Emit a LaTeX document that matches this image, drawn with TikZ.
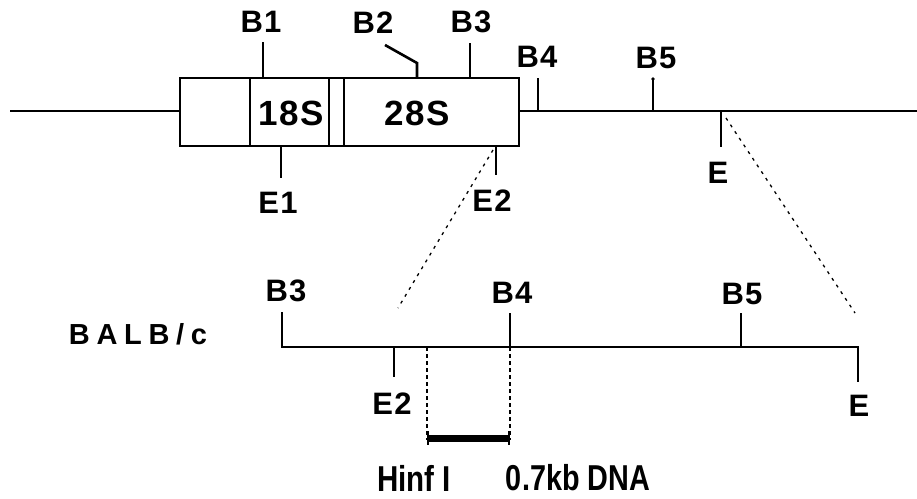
\documentclass[tikz,border=0pt]{standalone}
\usepackage{fontspec}
\setmainfont{Liberation Sans}[LetterSpace=4]
\newfontfamily\condfont{Liberation Sans}
\begin{document}
\begin{tikzpicture}[x=1pt,y=-1pt,
  lbl/.style={font=\fontsize{31}{33}\selectfont\bfseries, inner sep=0pt},
  big/.style={font=\fontsize{35}{37}\selectfont\bfseries, inner sep=0pt},
  cond/.style={font=\fontsize{36}{38}\selectfont\condfont\bfseries, inner sep=0pt},
  line/.style={line width=2.6pt},
  boxline/.style={line width=1.8pt},
  dots/.style={line width=1.3pt, dash pattern=on 3pt off 5pt},
  dsh/.style={line width=1.3pt, dash pattern=on 4pt off 3pt}]
\useasboundingbox (0,0) rectangle (917,498);
% top map
\coordinate (L0) at (10,111);
\coordinate (R0) at (917,111);
\draw[line] (L0) -- (179,111);
\draw[line] (518,111) -- (R0);
\node[draw, boxline, minimum width=70pt, minimum height=68pt, anchor=north west, inner sep=0pt] (ets) at (179,77) {};
\node[draw, boxline, minimum width=79pt, minimum height=68pt, anchor=north west, inner sep=0pt] (s18) at (249,77) {};
\node[draw, boxline, minimum width=15pt, minimum height=68pt, anchor=north west, inner sep=0pt] (its) at (328,77) {};
\node[draw, boxline, minimum width=175pt, minimum height=68pt, anchor=north west, inner sep=0pt] (s28) at (343,77) {};
\node[big] at (291,113) {18S};
\node[big] at (417,113) {28S};
% top ticks
\node[lbl] (B1) at (261,22) {B1};
\draw[line] (263,42) -- (263,77);
\node[lbl] (B2) at (373,23) {B2};
\draw[line] (385,45) -- (417,63) -- (417,77);
\node[lbl] (B3) at (471,22) {B3};
\draw[line] (470,43) -- (470,77);
\node[lbl] (B4) at (537,57) {B4};
\draw[line] (538,78) -- (538,111);
\node[lbl] (B5) at (656,58) {B5};
\draw[line] (653,80) -- (653,111);
\fill (653,79) circle (1.8pt);
\node[lbl] (E1) at (278,203) {E1};
\draw[line] (281,145) -- (281,178);
\node[lbl] (E2) at (492,201) {E2};
\draw[line] (496,145) -- (496,175);
\node[lbl] (E) at (718,173) {E};
\draw[line] (721,111) -- (721,147);
% expansion lines
\coordinate (zl0) at (493,150);
\coordinate (zl1) at (398,308);
\coordinate (zr0) at (726,118);
\coordinate (zr1) at (855,313);
\draw[dots] (zl0) -- (zl1);
\draw[dots] (zr0) -- (zr1);
% lower map
\node[inner sep=0pt, font=\fontsize{29}{31}\selectfont\bfseries\addfontfeatures{LetterSpace=23}] (balb) at (138,334) {BALB/c};
\draw[line] (282,312) -- (282,347) -- (858,347) -- (858,382);
\node[lbl] (lB3) at (286,291) {B3};
\node[lbl] (lB4) at (512,293) {B4};
\draw[line] (510,313) -- (510,347);
\node[lbl] (lB5) at (742,294) {B5};
\draw[line] (741,313) -- (741,347);
\node[lbl] (lE) at (859,406) {E};
\node[lbl] (lE2) at (392,404) {E2};
\draw[line] (394,347) -- (394,377);
\draw[dsh] (427,347) -- (427,440);
\draw[dsh] (510,347) -- (510,440);
\draw[line width=7pt] (427,438) -- (510,438);
\draw[line width=2.5pt] (428,431) -- (428,445);
\draw[line width=2.5pt] (509,431) -- (509,445);
\node[cond] (hinf) at (414,478) {\scalebox{0.82}[1]{Hinf I}};
\node[cond] (dna) at (578,478) {\scalebox{0.8}[1]{0.7kb DNA}};
\end{tikzpicture}
\end{document}
